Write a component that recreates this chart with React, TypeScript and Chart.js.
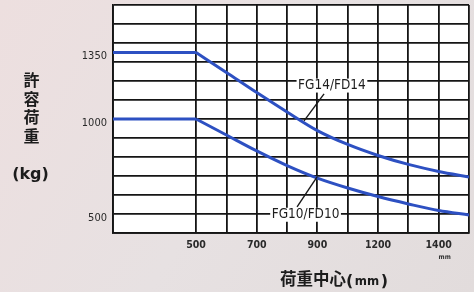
import React, { useEffect, useRef } from 'react';
import { Chart, registerables } from 'chart.js';

Chart.register(...registerables);

// ---- data ----
const loadCentersMm = [226, 500, 600, 700, 800, 900, 1000, 1100, 1200, 1300, 1400];
const fg14Loads = [1350, 1350, 1245, 1139, 1037, 939, 866, 808, 761, 724, 695];
const fg10Loads = [1000, 1000, 916, 832, 755, 689, 637, 592, 553, 518, 495];
const seriesNames = ['FG14/FD14', 'FG10/FD10'];

const xGridValues = [226, 500, 600, 700, 800, 900, 1000, 1100, 1200, 1300, 1400];
const xTickValues = [500, 700, 900, 1100, 1300];
const xTickLabels = ['500', '700', '900', '1200', '1400'];
const yGridValues = [400, 500, 600, 700, 800, 900, 1000, 1100, 1200, 1300, 1400, 1500, 1600];
const yTickValues = [500, 1000, 1350];

const yTitleChars = ['許', '容', '荷', '重'];
const yUnitText = '(kg)';
const xTitleText = '荷重中心';
const xUnitText = 'mm';

// series label anchors / leader lines, in data coordinates
const labelAnchors = [
  { x: 948, y: 1176 },
  { x: 861, y: 496 },
];
const leaderFrom = [
  { x: 922, y: 1132 },
  { x: 833, y: 537 },
];
const leaderTo = [
  { x: 856, y: 990 },
  { x: 899, y: 695 },
];

const CJK = '"Noto Sans CJK JP", "Noto Sans CJK SC", sans-serif';
const COND = '"DejaVu Sans Condensed", "DejaVu Sans", sans-serif';
const LINE_BLUE = '#2d50c2';

const decorPlugin = {
  id: 'decor',
  beforeDraw(chart: any) {
    const { ctx, width, height, chartArea: a } = chart;
    ctx.save();
    const g = ctx.createLinearGradient(0, 0, width, height);
    g.addColorStop(0, '#eddfdf');
    g.addColorStop(0.5, '#e7e1e2');
    g.addColorStop(1, '#e2dcdc');
    ctx.fillStyle = g;
    ctx.fillRect(0, 0, width, height);
    ctx.fillStyle = '#ffffff';
    ctx.fillRect(a.left, a.top, a.right - a.left, a.bottom - a.top);
    ctx.restore();
  },
  afterDraw(chart: any) {
    const { ctx } = chart;
    const xs = chart.scales.x;
    const ys = chart.scales.y;
    ctx.save();

    // series labels with leader lines
    ctx.font = `13.5px ${COND}`;
    ctx.textAlign = 'center';
    ctx.textBaseline = 'middle';
    seriesNames.forEach((name, i) => {
      const px = xs.getPixelForValue(labelAnchors[i].x);
      const py = ys.getPixelForValue(labelAnchors[i].y);
      const w = ctx.measureText(name).width;
      ctx.fillStyle = '#ffffff';
      ctx.fillRect(px - w / 2 - 1.5, py - 7, w + 3, 14);
      ctx.fillStyle = '#1e1e1e';
      ctx.fillText(name, px, py);
      ctx.beginPath();
      ctx.strokeStyle = '#1a1a1a';
      ctx.lineWidth = 1.4;
      ctx.moveTo(xs.getPixelForValue(leaderFrom[i].x), ys.getPixelForValue(leaderFrom[i].y));
      ctx.lineTo(xs.getPixelForValue(leaderTo[i].x), ys.getPixelForValue(leaderTo[i].y));
      ctx.stroke();
    });

    // y title (vertical)
    ctx.fillStyle = '#1c1c1c';
    ctx.font = `bold 16px ${CJK}`;
    ctx.textAlign = 'center';
    ctx.textBaseline = 'middle';
    yTitleChars.forEach((c, i) => ctx.fillText(c, 31.5, 80 + i * 18.5));
    ctx.font = `bold 16px "DejaVu Sans", sans-serif`;
    ctx.fillText(yUnitText, 30.5, 175);

    // x title
    ctx.textAlign = 'left';
    ctx.textBaseline = 'alphabetic';
    let x = 280;
    const base = 285;
    ctx.font = `bold 16.5px ${CJK}`;
    ctx.fillText(xTitleText, x, base);
    x += ctx.measureText(xTitleText).width;
    ctx.font = `bold 16px "DejaVu Sans", sans-serif`;
    ctx.fillText('(', x, base + 1);
    x += ctx.measureText('(').width + 1.5;
    ctx.font = `bold 13px ${COND}`;
    ctx.fillText(xUnitText, x, base);
    x += ctx.measureText(xUnitText).width + 1.5;
    ctx.font = `bold 16px "DejaVu Sans", sans-serif`;
    ctx.fillText(')', x, base + 1);

    // small unit under last x tick label
    ctx.font = `bold 6.5px ${COND}`;
    ctx.textAlign = 'center';
    ctx.textBaseline = 'middle';
    ctx.fillStyle = '#333';
    ctx.fillText(xUnitText, xs.getPixelForValue(xTickValues[xTickValues.length - 1]) + 6, 257);

    ctx.restore();
  },
};

function pts(loads: number[], from: number, to: number) {
  return loadCentersMm.slice(from, to).map((v, i) => ({ x: v, y: loads[from + i] }));
}

function seriesDatasets(name: string, loads: number[]) {
  // flat section up to the knee, then the smooth derated section
  return [
    {
      label: name,
      data: pts(loads, 0, 2),
      borderColor: LINE_BLUE,
      borderWidth: 3,
      pointRadius: 0,
      tension: 0,
    },
    {
      label: name,
      data: pts(loads, 1, loads.length),
      borderColor: LINE_BLUE,
      borderWidth: 3,
      pointRadius: 0,
      cubicInterpolationMode: 'monotone',
    },
  ];
}

export default function App() {
  const ref = useRef<HTMLCanvasElement | null>(null);

  useEffect(() => {
    if (!ref.current) return;
    const gridColor = '#151515';
    const chart = new Chart(ref.current, {
      type: 'line',
      data: {
        datasets: [...seriesDatasets(seriesNames[0], fg14Loads), ...seriesDatasets(seriesNames[1], fg10Loads)],
      },
      options: {
        responsive: false,
        animation: false,
        layout: { padding: { top: 5, right: 5, left: 0, bottom: 0 } },
        plugins: { legend: { display: false }, tooltip: { enabled: false } },
        scales: {
          x: {
            type: 'linear',
            min: 226,
            max: 1400,
            afterBuildTicks: (s: any) => {
              s.ticks = xGridValues.map((v) => ({ value: v }));
            },
            afterFit: (s: any) => {
              s.height = 59;
            },
            grid: {
              color: gridColor,
              lineWidth: 1.8,
              drawTicks: true,
              tickLength: 6,
              tickColor: 'rgba(0,0,0,0)',
            },
            border: { color: gridColor, width: 1.8 },
            ticks: {
              autoSkip: false,
              maxRotation: 0,
              padding: 0,
              color: '#2a2a2a',
              font: { family: COND, size: 10.5, weight: 'bold' },
              callback: (v: any) => {
                const i = xTickValues.indexOf(Number(v));
                return i >= 0 ? xTickLabels[i] : '';
              },
            },
          },
          y: {
            type: 'linear',
            min: 400,
            max: 1600,
            afterBuildTicks: (s: any) => {
              const vals = Array.from(new Set([...yGridValues, ...yTickValues])).sort((a, b) => a - b);
              s.ticks = vals.map((v) => ({ value: v }));
            },
            afterFit: (s: any) => {
              s.width = 113;
            },
            grid: {
              color: (c: any) => (c.tick && c.tick.value % 100 === 0 ? gridColor : 'rgba(0,0,0,0)'),
              lineWidth: 1.8,
              drawTicks: true,
              tickLength: 6,
              tickColor: 'rgba(0,0,0,0)',
            },
            border: { color: gridColor, width: 1.8 },
            ticks: {
              autoSkip: false,
              padding: 0,
              labelOffset: 4,
              color: '#2a2a2a',
              font: { family: COND, size: 11, lineHeight: 0.8 },
              callback: (v: any) => (yTickValues.includes(Number(v)) ? String(v) : ''),
            },
          },
        },
      },
      plugins: [decorPlugin],
    } as any);
    return () => chart.destroy();
  }, []);

  return (
    <div style={{ position: 'fixed', left: 0, top: 0, width: 474, height: 292 }}>
      <canvas ref={ref} width={474} height={292} style={{ display: 'block' }} />
    </div>
  );
}
